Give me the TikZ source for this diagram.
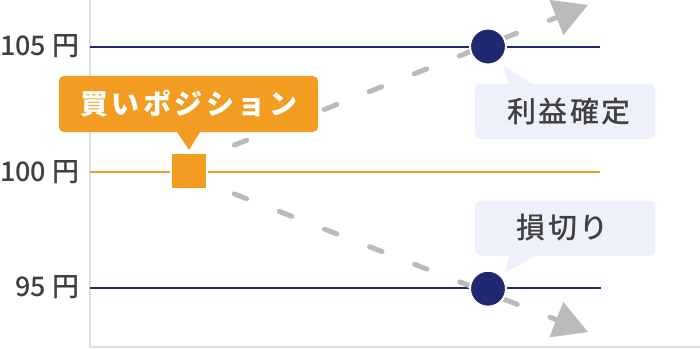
\documentclass[tikz,border=0pt]{standalone}
\usepackage{fontspec}
\newfontfamily\jp{Noto Sans CJK JP}
\newfontfamily\jpm{Noto Sans CJK JP Medium}
\usetikzlibrary{arrows.meta}
\definecolor{navy}{HTML}{1F2870}
\definecolor{orng}{HTML}{F39C22}
\definecolor{dashg}{HTML}{BBBBBB}
\definecolor{axisg}{HTML}{DDDDDD}
\definecolor{lav}{HTML}{EEF0FB}
\definecolor{txt}{HTML}{404040}
\begin{document}
\begin{tikzpicture}[x=1pt,y=-1pt,
  axisline/.style={draw=axisg,line width=1.8pt},
  navyline/.style={draw=navy,line width=2pt},
  orngline/.style={draw=orng,line width=2pt},
  pricelbl/.style={anchor=east,inner sep=0pt,text=txt,font=\jpm\fontsize{27}{27}\selectfont},
  trend/.style={draw=dashg,line width=5pt,line cap=round,dash pattern=on 13.3pt off 35.1pt,
    -{Triangle[length=34pt,width=38pt,line width=0pt 0 0]}},
  dot/.style={circle,fill=navy,draw=white,line width=2pt,minimum size=36pt,inner sep=0pt},
  entrybox/.style={rectangle,fill=orng,draw=white,line width=2pt,minimum size=36pt,inner sep=0pt},
  buybox/.style={rectangle,fill=orng,rounded corners=5pt,minimum width=259pt,minimum height=56pt,
    inner sep=0pt,text=white,font=\jp\bfseries\fontsize{28}{28}\selectfont},
  infobox/.style={rectangle,fill=lav,rounded corners=5pt,minimum width=180pt,minimum height=55pt,
    inner sep=0pt,text=txt,font=\jpm\fontsize{29}{29}\selectfont}
]
\useasboundingbox (0,0) rectangle (700,350);
% axes
\draw[axisline] (90,0) -- (90,346.7) -- (700,346.7);
% price lines
\draw[navyline] (90,46.7) -- (600,46.7);
\draw[orngline] (90,171.7) -- (600,171.7);
\draw[navyline] (90,288.2) -- (601,288.2);
% price labels
\node[pricelbl] (p105) at (79.5,46.5) {105 円};
\node[pricelbl] (p100) at (79.5,172.5) {100 円};
\node[pricelbl] (p95) at (79.5,287.5) {95 円};
% trend lines
\coordinate (ustart) at (234.3,145.1);
\coordinate (utip) at (588,5);
\coordinate (lstart) at (234.3,193.9);
\coordinate (ltip) at (588,332);
\draw[trend] (ustart) -- (utip);
\draw[trend] (lstart) -- (ltip);
% markers
\node[dot] (tp) at (488,46.5) {};
\node[dot] (sl) at (488,288.7) {};
\node[entrybox] (entry) at (189,171.3) {};
% buy callout
\node[buybox] (buy) at (188.5,104) {買\kern3.5pt い\kern3.5pt ポ\kern3.5pt ジ\kern3.5pt シ\kern3.5pt ョ\kern3.5pt ン};
\coordinate (buytip) at (189,150);
\fill[orng] ([xshift=-12pt,yshift=1pt]buy.south) -- ([xshift=12pt,yshift=1pt]buy.south) -- (buytip) -- cycle;
% profit callout
\node[infobox] (prof) at (565,111.5) {\hspace*{8pt}利\kern2.5pt 益\kern2.5pt 確\kern2.5pt 定};
\coordinate (proftip) at (503,65);
\fill[lav] (509,85) -- (533,85) -- (proftip) -- cycle;
% loss callout
\node[infobox] (loss) at (565,228) {損\kern2.5pt 切\kern2.5pt り\hspace*{5pt}};
\coordinate (losstip) at (505,273);
\fill[lav] (509,255) -- (537,255) -- (losstip) -- cycle;
\end{tikzpicture}
\end{document}
